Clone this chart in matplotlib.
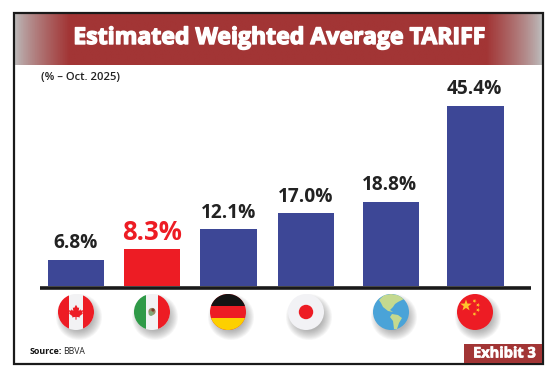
import matplotlib
matplotlib.use("Agg")
import matplotlib.pyplot as plt
import matplotlib.patheffects as pe
import numpy as np
from matplotlib.patches import Circle, Polygon, Rectangle

countries = ["Canada", "Mexico", "Germany", "Japan", "World", "China"]
tariffs = [6.8, 8.3, 12.1, 17.0, 18.8, 45.4]
value_labels = ["6.8%", "8.3%", "12.1%", "17.0%", "18.8%", "45.4%"]
# the bars in the source are not in proportion to their labels,
# so these are the heights, in pixels
bar_heights = [26, 37, 57, 73, 84, 180]
title = "Estimated Weighted Average TARIFF"
subtitle = "(% \u2013 Oct. 2025)"
source_head = "Source:"
source_name = "BBVA"
exhibit = "Exhibit 3"

# layout in pixels of the 555x370 picture
W, H = 555, 370
BAR_CENTERS = [76, 152, 228.5, 306, 391, 475.5]
LABEL_SHIFT = [0, 0, 0, 0, -2, -1]
FLAG_CENTERS = [76, 152, 228, 306, 391, 475]
FLAG_Y = 312
FLAG_R = 18
BLUE = "#3d4796"
RED = "#ed1c24"
MAROON = "#a23535"
DARK = "#1a1a1a"

plt.rcParams["font.family"] = ["Open Sans", "DejaVu Sans"]

fig = plt.figure(figsize=(W / 100, H / 100), dpi=100)
bg = fig.add_axes([0, 0, 1, 1])
bg.axis("off")

# header with grey fade at both ends
n = 300
fade = np.ones(n)
edge = 32
fade[:edge] = np.linspace(0, 1, edge) ** 0.8
fade[-edge:] = np.linspace(1, 0, edge) ** 0.8
grey = np.array([0.74, 0.74, 0.74])
maroon = np.array(matplotlib.colors.to_rgb(MAROON))
grad = (fade[:, None] * maroon + (1 - fade[:, None]) * grey)[None, :, :]
bg.imshow(grad, extent=[14, 512 + 30, 65, 13], aspect="auto", zorder=1)
bg.set_xlim(0, W)
bg.set_ylim(H, 0)

# frame
bg.add_patch(Rectangle((13.5, 12.5), 529, 351, fill=False, ec=DARK, lw=1.6, zorder=5))

bg.text(279, 38, title, color="white", fontsize=16.6, fontweight="bold",
        ha="center", va="center", zorder=6,
        path_effects=[pe.withStroke(linewidth=1.0, foreground="white")])
bg.text(41, 77, subtitle, color="#222222", fontsize=8.1, fontweight="semibold",
        ha="left", va="center")

# bars get their own axes, one y unit is one pixel
bar_ax = fig.add_axes([0, (H - 286) / H, 1, 190 / H])
bar_ax.set_xlim(0, W)
bar_ax.set_ylim(0, 190)
bar_ax.axis("off")
colors = [RED if c == "Mexico" else BLUE for c in countries]
bar_ax.bar(BAR_CENTERS, bar_heights, width=56.5, color=colors)
for x, h, label, c, dx in zip(BAR_CENTERS, bar_heights, value_labels, countries, LABEL_SHIFT):
    is_mx = c == "Mexico"
    bar_ax.annotate(label, (x + dx, h + 16.5), ha="center", va="center", fontweight="bold",
                    fontsize=18.5 if is_mx else 13.8,
                    color=RED if is_mx else "#222222", annotation_clip=False)

# baseline
bg.plot([40, 531], [287.5, 287.5], color=DARK, lw=2.6, solid_capstyle="butt", zorder=4)


def draw_shadow(cx, cy, r):
    for k in range(10):
        bg.add_patch(Circle((cx + 3, cy + 5), r + 5 - k, fc="#555555", ec="none",
                            alpha=0.05, zorder=2))


def flag_disc(cx, cy, r, color):
    disc = Circle((cx, cy), r, fc=color, ec="none", zorder=3)
    bg.add_patch(disc)
    return disc


def clipped(patch, disc):
    bg.add_patch(patch)
    patch.set_clip_path(disc)
    patch.set_zorder(3.2)
    return patch


def star(cx, cy, r, rot=0):
    ang = np.deg2rad(np.arange(10) * 36 - 90 + rot)
    rad = np.where(np.arange(10) % 2 == 0, r, r * 0.4)
    return np.column_stack([cx + rad * np.cos(ang), cy + rad * np.sin(ang)])


def draw_canada(cx, cy, r):
    disc = flag_disc(cx, cy, r, "#f2f2f4")
    clipped(Rectangle((cx - r, cy - r), r * 0.62, 2 * r, fc=RED), disc)
    clipped(Rectangle((cx + r * 0.38, cy - r), r * 0.62, 2 * r, fc=RED), disc)
    leaf = [(0, -8), (2, -4.5), (3.5, -5), (3, -1), (5, -3), (5.5, -1.5), (8, -2), (7, 1),
            (7.7, 1.8), (4, 4.6), (4.4, 6), (0.6, 5.4), (0.6, 8.5), (-0.6, 8.5), (-0.6, 5.4),
            (-4.4, 6), (-4, 4.6), (-7.7, 1.8), (-7, 1), (-8, -2), (-5.5, -1.5), (-5, -3),
            (-3, -1), (-3.5, -5), (-2, -4.5)]
    leaf = np.array(leaf) * 0.9 + [cx, cy]
    clipped(Polygon(leaf, fc=RED, ec="none"), disc)


def draw_mexico(cx, cy, r):
    disc = flag_disc(cx, cy, r, "#f2f2f4")
    clipped(Rectangle((cx - r, cy - r), r * 0.66, 2 * r, fc="#2f9a48"), disc)
    clipped(Rectangle((cx + r * 0.34, cy - r), r * 0.66, 2 * r, fc=RED), disc)
    clipped(Circle((cx, cy - 0.5), 3.6, fc="#9a8a65", ec="none"), disc)
    clipped(Circle((cx - 1, cy + 1.5), 2.4, fc="#7fa876", ec="none"), disc)
    clipped(Circle((cx + 1, cy - 2), 1.6, fc="#7a3c2c", ec="none"), disc)


def draw_germany(cx, cy, r):
    disc = flag_disc(cx, cy, r, RED)
    clipped(Rectangle((cx - r, cy - r), 2 * r, r * 0.68, fc="#141414"), disc)
    clipped(Rectangle((cx - r, cy + r * 0.34), 2 * r, r * 0.66, fc="#fdd000"), disc)


def draw_japan(cx, cy, r):
    flag_disc(cx, cy, r, "#f2f2f5")
    bg.add_patch(Circle((cx, cy), r * 0.4, fc=RED, ec="none", zorder=3.2))


def draw_world(cx, cy, r):
    disc = flag_disc(cx, cy, r, "#4aa3d8")
    north = [(-12, -12), (-7, -17), (0, -18), (8, -17), (13, -13), (7, -10), (4, -8), (2, -5),
             (-1, -2), (2, 0), (-3, -1), (-8, -5), (-10, -9)]
    south = [(1, 2), (7, 3), (11, 6), (8, 11), (6, 17), (3, 17), (2, 9), (-1, 5)]
    for shape in (north, south):
        clipped(Polygon(np.array(shape) + [cx, cy], fc="#c4d98f", ec="none"), disc)


def draw_china(cx, cy, r):
    disc = flag_disc(cx, cy, r, RED)
    clipped(Polygon(star(cx - 9, cy - 6.5, 6), fc="#fdc52c", ec="none"), disc)
    for dx, dy in [(-0.5, -11), (3, -7), (3, -2), (-0.5, 2)]:
        clipped(Polygon(star(cx + dx, cy + dy, 2.2, rot=20), fc="#fdc52c", ec="none"), disc)


painters = {"Canada": draw_canada, "Mexico": draw_mexico, "Germany": draw_germany,
            "Japan": draw_japan, "World": draw_world, "China": draw_china}
for c, x in zip(countries, FLAG_CENTERS):
    draw_shadow(x, FLAG_Y, FLAG_R)
    painters[c](x, FLAG_Y, FLAG_R)

# source and exhibit tag
bg.text(30, 351, source_head, fontsize=6.4, fontweight="bold", color="#111111",
        ha="left", va="center")
bg.text(63, 351, source_name, fontsize=6.2, color="#222222", ha="left", va="center")
bg.add_patch(Rectangle((464, 344), 78, 19, fc=MAROON, ec="none", zorder=6))
bg.text(504.5, 353.5, exhibit, color="white", fontsize=10.5, fontweight="bold",
        ha="center", va="center", zorder=7,
        path_effects=[pe.withStroke(linewidth=0.5, foreground="white")])

fig.savefig("out.png", dpi=100)
